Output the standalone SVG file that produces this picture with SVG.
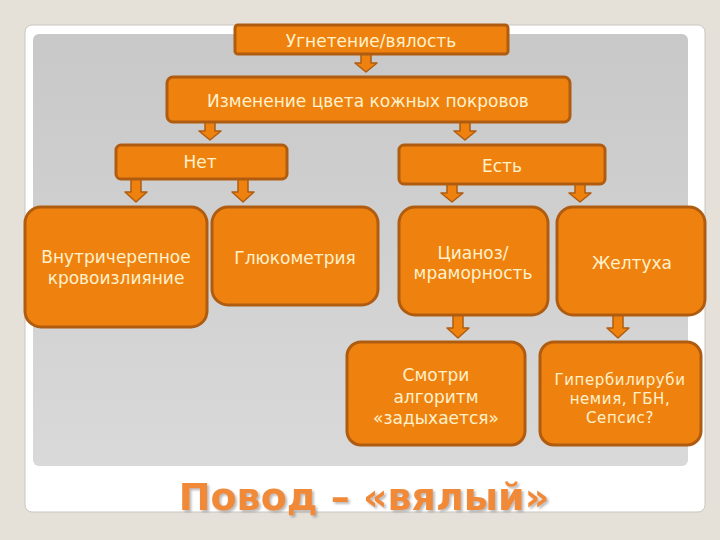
<svg xmlns="http://www.w3.org/2000/svg" width="720" height="540" viewBox="0 0 720 540">
<defs>
<linearGradient id="panel" x1="0" y1="0" x2="0" y2="1">
<stop offset="0" stop-color="#c8c8c8"/>
<stop offset="1" stop-color="#d9d9d9"/>
</linearGradient>
<filter id="sh" x="-5%" y="-20%" width="110%" height="140%">
<feDropShadow dx="2" dy="2" stdDeviation="1" flood-color="#777" flood-opacity="0.5"/>
</filter>
</defs>
<style>
.box{fill:#ef820f;stroke:#b05c10;stroke-width:3}
.arr{fill:#ef820f;stroke:#b05c10;stroke-width:1.5;stroke-linejoin:round}
.t{font-family:"DejaVu Sans","Noto Sans",sans-serif;font-size:17px;fill:#fff1cc;text-anchor:middle}
.s{font-size:15px;letter-spacing:0.6px}
.title{font-family:"DejaVu Sans","Liberation Sans",sans-serif;font-weight:bold;font-size:38px;fill:#f08a38;text-anchor:middle}
</style>
<rect x="0" y="0" width="720" height="540" fill="#e5e1d9"/>
<rect x="25" y="25" width="680" height="487" rx="7" fill="#ffffff" stroke="#c9c6c0" stroke-width="1"/>
<rect x="33" y="34" width="655" height="432" rx="6" fill="url(#panel)"/>

<g id="connectors">
<path class="arr" d="M361,54 H371 V63 H377 L366,72 L355,63 H361 Z"/>
<path class="arr" d="M205,122 H215 V131 H221 L210,140 L199,131 H205 Z"/>
<path class="arr" d="M460,122 H470 V131 H476 L465,140 L454,131 H460 Z"/>
<path class="arr" d="M131,179 H141 V192 H147 L136,202 L125,192 H131 Z"/>
<path class="arr" d="M238,179 H248 V192 H254 L243,202 L232,192 H238 Z"/>
<path class="arr" d="M447,184 H457 V193 H463 L452,202 L441,193 H447 Z"/>
<path class="arr" d="M575,184 H585 V193 H591 L580,202 L569,193 H575 Z"/>
<path class="arr" d="M453,315 H463 V328 H469 L458,338 L447,328 H453 Z"/>
<path class="arr" d="M613,315 H623 V328 H629 L618,338 L607,328 H613 Z"/>
</g>

<g id="n1"><rect class="box" x="235" y="25" width="273" height="29" rx="3"/><text class="t" x="371" y="47">Угнетение/вялость</text></g>
<g id="n2"><rect class="box" x="167" y="77" width="403" height="45" rx="6"/><text class="t" x="368" y="107">Изменение цвета кожных покровов</text></g>
<g id="n3"><rect class="box" x="116" y="145" width="171" height="34" rx="5"/><text class="t" x="200" y="168">Нет</text></g>
<g id="n4"><rect class="box" x="399" y="145" width="206" height="39" rx="5"/><text class="t" x="502" y="172">Есть</text></g>
<g id="n5"><rect class="box" x="25" y="207" width="182" height="120" rx="16"/><text class="t" x="116" y="263">Внутричерепное</text><text class="t" x="116" y="284">кровоизлияние</text></g>
<g id="n6"><rect class="box" x="212" y="207" width="166" height="98" rx="16"/><text class="t" x="295" y="264">Глюкометрия</text></g>
<g id="n7"><rect class="box" x="399" y="207" width="149" height="108" rx="16"/><text class="t" x="473" y="259">Цианоз/</text><text class="t" x="473" y="279">мраморность</text></g>
<g id="n8"><rect class="box" x="557" y="207" width="148" height="108" rx="16"/><text class="t" x="632" y="269">Желтуха</text></g>
<g id="n9"><rect class="box" x="347" y="342" width="178" height="103" rx="14"/><text class="t" x="436" y="381">Смотри</text><text class="t" x="436" y="403">алгоритм</text><text class="t" x="436" y="424">«задыхается»</text></g>
<g id="n10"><rect class="box" x="540" y="342" width="161" height="103" rx="14"/><text class="t s" x="620" y="385">Гипербилируби</text><text class="t s" x="620" y="404">немия, ГБН,</text><text class="t s" x="620" y="423">Сепсис?</text></g>

<text class="title" x="364" y="510" filter="url(#sh)">Повод – «вялый»</text>
</svg>
